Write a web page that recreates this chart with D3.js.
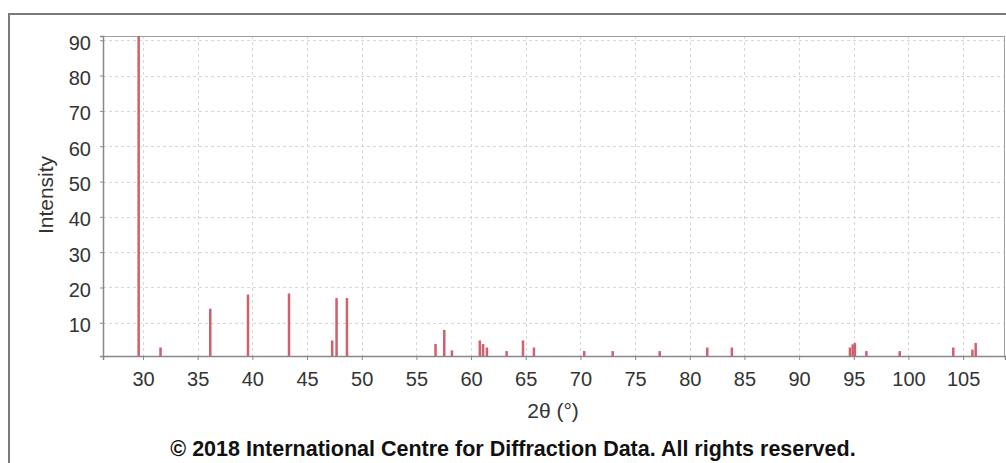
<!DOCTYPE html>
<html lang="en">
<head>
  <meta charset="UTF-8">
  <title>Diffraction pattern</title>
  <script src="https://cdn.jsdelivr.net/npm/d3@7/dist/d3.min.js"></script>
  <style>
    body { margin: 0; background: #fff; }
    text { font-family: "Liberation Sans", Arial, sans-serif; }
  </style>
</head>
<body>
  <div id="main" style="width:1006px;height:463px"></div>
  <script>
    // peak positions (2θ, degrees) and relative intensities
    var peakAngles = [29.6, 31.6, 36.15, 39.6, 43.35, 47.3, 47.7, 48.65,
      56.75, 57.55, 58.25, 60.8, 61.1, 61.45, 63.25, 64.75, 65.75,
      69.3, 70.35, 72.95, 73.7, 76.5, 77.25, 81.6, 82.1, 83.85,
      85.5, 86.5, 93.1, 94.65, 94.9, 95.1, 96.15, 97.7, 99.2,
      102.25, 103.0, 104.1, 105.85, 106.15, 107.4];
    var peakValues = [100, 3, 14, 18, 18.3, 5, 17, 17,
      4, 8, 2.2, 5, 4, 3, 2, 5, 3,
      0.5, 2, 2, 0.6, 0.5, 2, 3, 0.6, 3,
      0.5, 0.5, 0.5, 3, 3.9, 4.3, 2, 0.5, 2,
      0.5, 0.5, 3, 2.4, 4.3, 0.5];
    var xTicks = [30, 35, 40, 45, 50, 55, 60, 65, 70, 75, 80, 85, 90, 95, 100, 105];
    var yTicks = [10, 20, 30, 40, 50, 60, 70, 80, 90];

    var width = 1006, height = 463;
    var pLeft = 103, pRight = 1005, pTop = 36, pBottom = 356;

    var svg = d3.select("#main").append("svg")
      .attr("width", width)
      .attr("height", height);

    // outer frame
    svg.append("rect")
      .attr("x", 9).attr("y", 14)
      .attr("width", 1010).attr("height", 470)
      .attr("fill", "#fff")
      .attr("stroke", "#7a7a7a")
      .attr("stroke-width", 2);

    var x = d3.scaleLinear().domain([26.34, 108.83]).range([pLeft, pRight]);
    var y = d3.scaleLinear().domain([0.6, 91.2]).range([pBottom, pTop]);

    // grid
    var grid = svg.append("g");
    grid.selectAll(".gx").data(xTicks).enter().append("line")
      .attr("x1", d => Math.round(x(d)) + 0.5).attr("x2", d => Math.round(x(d)) + 0.5)
      .attr("y1", pTop).attr("y2", pBottom)
      .attr("stroke", "#d6d6d6").attr("stroke-dasharray", "3,3");
    grid.selectAll(".gy").data(yTicks).enter().append("line")
      .attr("y1", d => Math.round(y(d)) + 0.5).attr("y2", d => Math.round(y(d)) + 0.5)
      .attr("x1", pLeft).attr("x2", pRight)
      .attr("stroke", "#d6d6d6").attr("stroke-dasharray", "3,3");

    // plot outline
    svg.append("rect")
      .attr("x", pLeft + 0.5).attr("y", pTop + 0.5)
      .attr("width", pRight - pLeft - 1).attr("height", pBottom - pTop)
      .attr("fill", "none").attr("stroke", "#a0a0a0");

    // peaks, clipped to the plot area
    svg.append("clipPath").attr("id", "plotClip")
      .append("rect").attr("x", pLeft).attr("y", pTop)
      .attr("width", pRight - pLeft).attr("height", pBottom - pTop);

    var peaks = peakAngles.map((a, i) => ({ angle: a, value: peakValues[i] }));
    svg.append("g").attr("clip-path", "url(#plotClip)")
      .selectAll("rect").data(peaks).enter().append("rect")
      .attr("x", d => x(d.angle) - 1.25)
      .attr("width", 2.5)
      .attr("y", d => y(d.value))
      .attr("height", d => pBottom - y(d.value))
      .attr("fill", "#d25f6c");

    // axes
    var xAxis = d3.axisBottom(x).tickValues(xTicks).tickSize(4).tickPadding(12);
    var gx = svg.append("g").attr("transform", "translate(0," + pBottom + ")").call(xAxis);
    var yAxis = d3.axisLeft(y).tickValues(yTicks).tickSize(3).tickPadding(9);
    var gy = svg.append("g").attr("transform", "translate(" + pLeft + ",0)").call(yAxis);

    [gx, gy].forEach(function (g) {
      g.select(".domain").attr("stroke", "#888").attr("stroke-width", 1.5);
      g.selectAll(".tick line").attr("stroke", "#888");
      g.selectAll(".tick text")
        .attr("fill", "#333")
        .style("font-size", "20px")
        .style("font-family", "'Liberation Sans', Arial, sans-serif");
    });
    gy.selectAll(".tick text").attr("dy", "0.45em");

    // labels
    svg.append("text")
      .attr("transform", "translate(53,195) rotate(-90)")
      .attr("text-anchor", "middle")
      .attr("fill", "#333")
      .style("font-size", "21px")
      .text("Intensity");

    svg.append("text")
      .attr("x", 553).attr("y", 418)
      .attr("text-anchor", "middle")
      .attr("fill", "#333")
      .style("font-size", "21px")
      .text("2θ (°)");

    svg.append("text")
      .attr("x", 513).attr("y", 456)
      .attr("text-anchor", "middle")
      .attr("fill", "#111")
      .style("font-size", "21.5px")
      .style("font-weight", "bold")
      .text("© 2018 International Centre for Diffraction Data. All rights reserved.");
  </script>
</body>
</html>
